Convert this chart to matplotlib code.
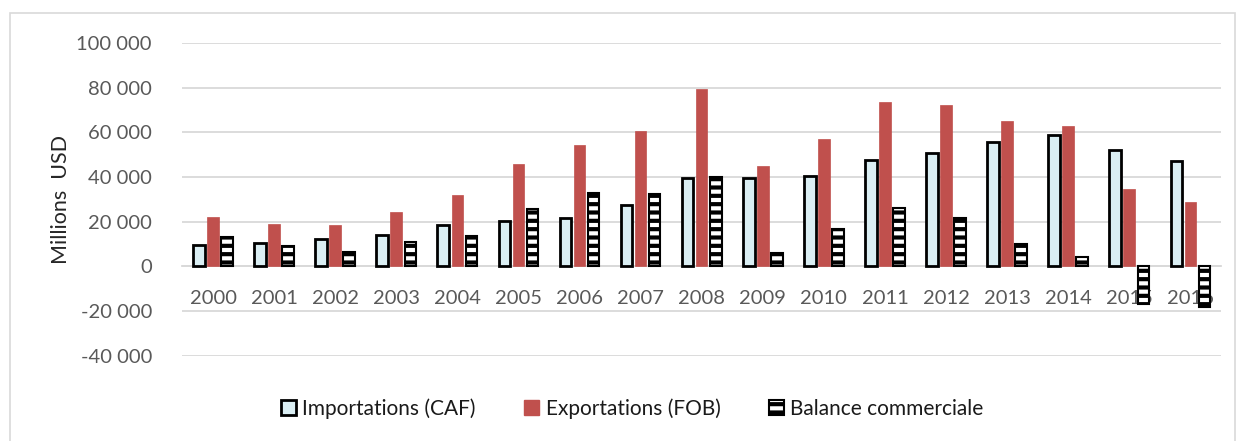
import numpy as np
import matplotlib
matplotlib.use("Agg")
import matplotlib.pyplot as plt
from matplotlib.patches import Rectangle, Patch
from matplotlib.ticker import FuncFormatter

years = [str(y) for y in range(2000, 2017)]
importations = [9500, 10300, 12400, 14000, 18600, 20500, 21500, 27500, 39500,
                39500, 40600, 47600, 50700, 55500, 58900, 51900, 47000]
exportations = [22000, 19200, 18700, 24500, 32000, 46000, 54500, 60500, 79500,
                45000, 57100, 73700, 72200, 65000, 62900, 34800, 28900]
balance = [13000, 9000, 6500, 11000, 13800, 25500, 33000, 32500, 40000,
           6000, 16800, 26300, 21700, 10100, 4300, -17000, -18200]

plt.rcParams['font.family'] = ['Lato', 'DejaVu Sans']
plt.rcParams['hatch.linewidth'] = 3.0

fig = plt.figure(figsize=(12.37, 4.41), dpi=100)
ax = fig.add_axes([0.1475, 0.193, 0.8395, 0.7095])

x = np.arange(len(years))
w = 0.19
off = 0.23
ax.bar(x - off, importations, w, color="#DAEEF3", edgecolor="black", linewidth=2, zorder=3,
       label="Importations (CAF)")
ax.bar(x, exportations, w, color="#C0504D", edgecolor="#C0504D", linewidth=0.5, zorder=3,
       label="Exportations (FOB)")
ax.bar(x + off, balance, w, color="white", edgecolor="black", hatch="--", linewidth=1.5, zorder=3,
       label="Balance commerciale")

ax.set_xlim(-0.5, len(years) - 0.5)
ax.set_ylim(-40000, 100000)
ax.set_yticks(np.arange(-40000, 100001, 20000))
ax.yaxis.set_major_formatter(FuncFormatter(lambda v, p: f"{int(v):,}".replace(",", " ")))
ax.grid(axis="y", color="#d9d9d9", linewidth=1.3, zorder=0)
ax.set_axisbelow(True)

for s in ["top", "right", "left"]:
    ax.spines[s].set_visible(False)
ax.spines["bottom"].set_position(("data", 0))
ax.spines["bottom"].set_color("#d9d9d9")
ax.spines["bottom"].set_linewidth(1.3)
ax.set_xticks(x)
ax.set_xticklabels(years)
ax.tick_params(axis="x", length=0, pad=17, labelsize=14.5, labelcolor="#595959")
ax.tick_params(axis="y", length=0, pad=22, labelsize=14.5, labelcolor="#595959")
ax.set_ylabel("Millions  USD", fontsize=15.5, color="#262626", labelpad=4)

handles = [Patch(facecolor="#DAEEF3", edgecolor="black", linewidth=2),
           Patch(facecolor="#C0504D", edgecolor="#C0504D"),
           Patch(facecolor="white", edgecolor="black", hatch="--", linewidth=1.5)]
labels = ["Importations (CAF)", "Exportations (FOB)", "Balance commerciale"]
fig.legend(handles, labels, loc="center", bbox_to_anchor=(0.511, 0.073), ncol=3,
           frameon=False, fontsize=15, handlelength=0.75, handleheight=0.75,
           handletextpad=0.3, columnspacing=2.3, labelcolor="#1a1a1a")

fig.patches.append(Rectangle((0.008, -0.01), 0.99, 0.98, transform=fig.transFigure,
                             fill=False, edgecolor="#d9d9d9", linewidth=1.2))

fig.savefig("out.png", dpi=100)
